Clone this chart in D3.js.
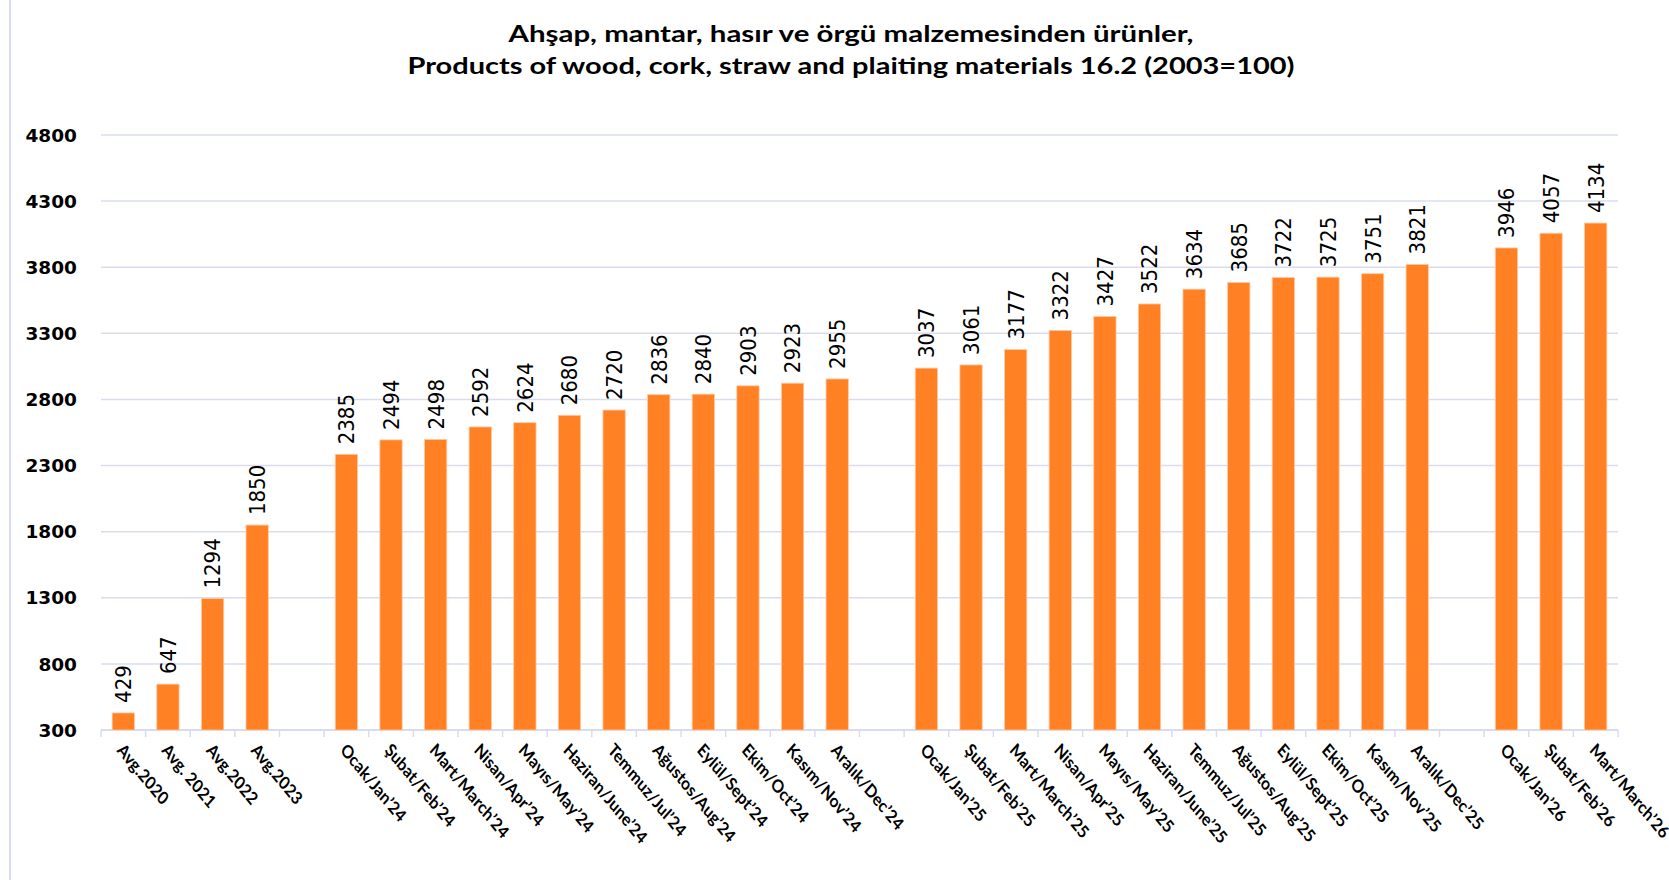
<!DOCTYPE html>
<meta charset="utf-8">
<html>
<head>
<title>Products of wood, cork, straw</title>
<style>
  html, body { margin: 0; padding: 0; background: #fff; }
  .title { font-family: Lato, 'Open Sans', sans-serif; font-weight: 700; font-size: 22px; fill: #000; }
  .ytick { font-family: 'DejaVu Sans', Verdana, sans-serif; font-weight: 700; font-size: 18.5px; fill: #000; }
  .xlab { font-family: Lato, 'Open Sans', sans-serif; font-weight: 700; font-size: 18px; fill: #000; }
  .vlab { font-family: 'Liberation Sans Narrow', 'DejaVu Sans Condensed', sans-serif; font-size: 22px; fill: #000; }
</style>
</head>
<body>
<svg xmlns="http://www.w3.org/2000/svg"></svg>
<script src="https://cdnjs.cloudflare.com/ajax/libs/d3/7.8.5/d3.min.js"></script>
<script>
  var width = 1669, height = 880;

  // "" marks the empty slots between years
  var categories = ["Avg.2020", "Avg. 2021", "Avg.2022", "Avg.2023", "",
    "Ocak/Jan’24", "Şubat/Feb’24", "Mart/March’24", "Nisan/Apr’24", "Mayıs/May’24", "Haziran/June’24",
    "Temmuz/Jul’24", "Ağustos/Aug’24", "Eylül/Sept’24", "Ekim/Oct’24", "Kasım/Nov’24", "Aralık/Dec’24", "",
    "Ocak/Jan’25", "Şubat/Feb’25", "Mart/March’25", "Nisan/Apr’25", "Mayıs/May’25", "Haziran/June’25",
    "Temmuz/Jul’25", "Ağustos/Aug’25", "Eylül/Sept’25", "Ekim/Oct’25", "Kasım/Nov’25", "Aralık/Dec’25", "",
    "Ocak/Jan’26", "Şubat/Feb’26", "Mart/March’26"];

  var values = [429, 647, 1294, 1850, null,
    2385, 2494, 2498, 2592, 2624, 2680, 2720, 2836, 2840, 2903, 2923, 2955, null,
    3037, 3061, 3177, 3322, 3427, 3522, 3634, 3685, 3722, 3725, 3751, 3821, null,
    3946, 4057, 4134];

  var yTicks = [300, 800, 1300, 1800, 2300, 2800, 3300, 3800, 4300, 4800];

  var titleLines = ["Ahşap, mantar, hasır ve örgü malzemesinden ürünler,",
    "Products of wood, cork, straw and plaiting materials 16.2  (2003=100)"];

  var gridColor = "#d9dcef", barColor = "#ff8124";
  var plotLeft = 101, plotRight = 1618, plotTop = 135, plotBottom = 730;

  var svg = d3.select("svg").attr("width", width).attr("height", height);
  svg.append("rect").attr("width", width).attr("height", height).attr("fill", "#fff");

  // chart frame on the left
  svg.append("line").attr("x1", 10).attr("x2", 10).attr("y1", 0).attr("y2", height)
    .attr("stroke", gridColor).attr("stroke-width", 2);

  var x = d3.scaleBand().domain(d3.range(categories.length)).range([plotLeft, plotRight]).padding(0);
  var y = d3.scaleLinear().domain([300, 4800]).range([plotBottom, plotTop]);

  // title
  var tl = [{t: titleLines[0], y: 42, w: 685}, {t: titleLines[1], y: 74, w: 887}];
  svg.selectAll("text.title").data(tl).enter().append("text")
    .attr("class", "title")
    .attr("x", 851).attr("y", function(d){ return d.y; })
    .attr("text-anchor", "middle")
    .attr("textLength", function(d){ return d.w; })
    .attr("lengthAdjust", "spacingAndGlyphs")
    .text(function(d){ return d.t; });

  // grid
  svg.append("g").selectAll("line").data(yTicks.slice(1)).enter().append("line")
    .attr("x1", plotLeft).attr("x2", plotRight)
    .attr("y1", function(d){ return y(d); }).attr("y2", function(d){ return y(d); })
    .attr("stroke", gridColor).attr("stroke-width", 1.5);

  // y labels
  svg.append("g").selectAll("text").data(yTicks).enter().append("text")
    .attr("class", "ytick")
    .attr("x", 77).attr("y", function(d){ return y(d); })
    .attr("dy", "0.36em")
    .attr("text-anchor", "end")
    .text(function(d){ return d; });

  // x axis line and tick marks at slot edges
  var xAxis = svg.append("g");
  xAxis.append("line").attr("x1", plotLeft).attr("x2", plotRight).attr("y1", plotBottom).attr("y2", plotBottom)
    .attr("stroke", gridColor).attr("stroke-width", 2);
  xAxis.selectAll("line.tk").data(d3.range(categories.length + 1)).enter().append("line")
    .attr("class", "tk")
    .attr("x1", function(i){ return plotLeft + i * x.bandwidth(); })
    .attr("x2", function(i){ return plotLeft + i * x.bandwidth(); })
    .attr("y1", plotBottom).attr("y2", plotBottom + 7)
    .attr("stroke", gridColor).attr("stroke-width", 1.5);

  var data = categories.map(function(c, i){ return {i: i, name: c, v: values[i]}; });
  var real = data.filter(function(d){ return d.v != null; });

  var bw = x.bandwidth() * 0.5;

  // bars
  svg.append("g").selectAll("rect").data(real).enter().append("rect")
    .attr("x", function(d){ return x(d.i) + (x.bandwidth() - bw) / 2; })
    .attr("y", function(d){ return y(d.v); })
    .attr("width", bw)
    .attr("height", function(d){ return plotBottom - y(d.v); })
    .attr("fill", barColor)
    .attr("stroke", "#ffc9a3").attr("stroke-width", 0.8);

  // value labels
  svg.append("g").selectAll("text").data(real).enter().append("text")
    .attr("class", "vlab")
    .attr("transform", function(d){
      return "translate(" + (x(d.i) + x.bandwidth() / 2) + "," + (y(d.v) - 10) + ") rotate(-90)";
    })
    .attr("dy", "0.36em")
    .text(function(d){ return d.v; });

  // category labels (45deg, horizontally squeezed like the original)
  svg.append("g").selectAll("text").data(real).enter().append("text")
    .attr("class", "xlab")
    .attr("transform", function(d){
      return "translate(" + (x(d.i) + x.bandwidth() / 2 - 7) + "," + (plotBottom + 21) + ") scale(0.86,1) rotate(46)";
    })
    .text(function(d){ return d.name; });
</script>
</body>
</html>
